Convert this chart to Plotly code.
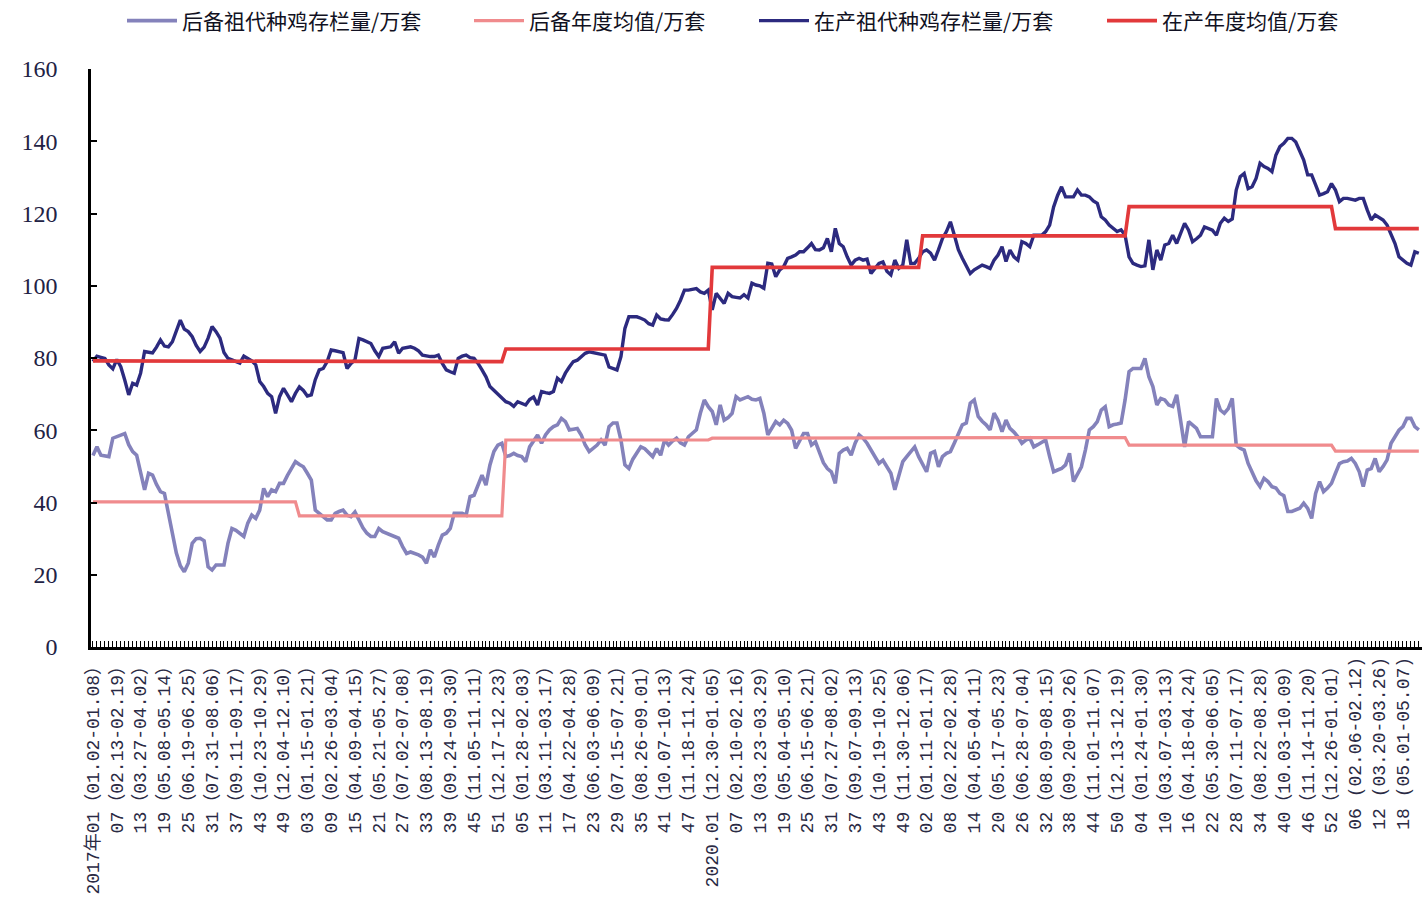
import plotly.graph_objects as go

# Weekly grandparent breeder stock (10k sets), 2017 W01 onwards
WEEKS_PER_YEAR = [52, 52, 52, 53, 52, 52, 22]  # 2017 ... 2023 (partial)

RESERVE_STOCK = [
    # 2017
    53, 55.4, 53.1, 53, 52.7, 57.8, 58.2, 58.5, 59.1, 56,
    54.1, 53.1, 48.1, 43.5, 48.1, 47.6, 45, 43, 42.5, 37,
    31.5, 26, 22.5, 20.8, 23.2, 28.7, 30, 30.1, 29.4, 22.2,
    21.3, 22.7, 22.7, 22.7, 28.7, 32.8, 32.3, 31.5, 30.6, 34.3,
    36.5, 35.6, 37.9, 43.9, 41.6, 43.5, 43, 45.3, 45.3, 47.5, 49.4, 51.3,
    # 2018
    50.5, 49.9, 48.1, 46.2, 37.9, 37, 36, 35.2, 35.2, 37,
    37.5, 37.9, 36.5, 36.1, 37.4, 35.2, 33, 31.5, 30.6, 30.6,
    32.8, 31.9, 31.5, 31, 30.6, 30.1, 27.8, 25.9, 26.3, 26,
    25.5, 24.9, 23.2, 26.9, 24.9, 28.2, 31, 31.5, 32.8, 37,
    37, 37, 36.5, 41.6, 42, 44.8, 47.6, 44.8, 50.4, 54.1, 55.9, 56.4,
    # 2019
    52.7, 53, 53.6, 53, 52.7, 51.3,
    55.4, 57, 58.7, 56.4, 58.7, 60.1, 61, 61.5, 63.3, 62.4,
    60.1, 60.3, 60.5, 58.7, 55.9, 54.1, 55, 55.9, 57.3, 55.9,
    61, 62, 62, 57.3, 50.4, 49.4, 52, 53.6, 55.4, 54.9,
    53.8, 52.7, 54.9, 53.1, 57.3, 55.9, 57, 57.8, 56.5, 55.9,
    58.2, 59, 60.1, 64.7, 68.4, 66.5,
    # 2020
    65.2, 61.5, 67, 62.8, 63.5, 64.7, 69.3, 68.4, 68.8,
    69.3, 68.6, 68.4, 68.8, 64.7, 58.7, 60.5, 62.4, 61.5, 62.8,
    61.9, 60, 55, 57, 59.1, 59.1, 55.9, 56.8, 53.6, 51,
    49.4, 48.5, 45.3, 53.6, 54.5, 55, 53.1, 56.4, 58.7, 57.8,
    56.4, 54.5, 52.5, 50.8, 51.7, 49.9, 48.1, 43.5, 47.2, 51.3,
    52.7, 54, 55.4, 52.7,
    # 2021
    50.5, 48.5, 53.6, 54.1, 49.9, 52.7, 53.6, 54.1, 56.5,
    59, 61.5, 62, 67.5, 68.4, 63.8, 62.5, 61.5, 60.1, 64.7,
    62.8, 59.6, 62.8, 60.5, 59.5, 58.2, 56.4, 57.3, 57.8, 55.4,
    56, 56.8, 57.3, 52.7, 48.5, 49, 49.4, 50.4, 53.6, 45.8,
    48, 49.9, 54.5, 60.1, 61, 62.4, 65.6, 66.5, 61, 61.5,
    61.7, 62, 68.4,
    # 2022
    76.2, 77.1, 77.1, 77.1, 79.9, 74.8, 72.1, 67, 68.8, 68.4, 67, 66.6,
    69.8, 62.8, 55.4, 62.4, 61.5, 60.5, 58.2, 58.2, 58.2, 58.2,
    68.8, 65.6, 64.7, 66, 68.8, 55.9, 55, 54.5, 50.8, 48.1,
    46, 44.4, 46.7, 45.8, 44.4, 44, 42.5, 41.9, 37.5, 37.5,
    38, 38.4, 39.8, 38.4, 35.6, 42.5, 45.8, 43, 44, 45.3,
    # 2023
    48.1, 50.8, 51.3, 51.5, 52.2, 50.8, 48.5, 44.4, 49, 49.4,
    52.2, 48.5, 50, 51.8, 56.4, 58.2, 60, 61, 63.3, 63.3, 61, 60.1,
]

PRODUCING_STOCK = [
    # 2017
    79, 80.5, 80.2, 79.9, 78.1, 77, 79.6, 77.6, 73.9, 69.8,
    73, 72.5, 75.8, 81.8, 81.6, 81.4, 83, 85, 83.3, 83.1,
    84.5, 87.7, 90.5, 88, 87.3, 85.9, 83.5, 81.8, 83, 85.5,
    88.7, 87.3, 85.5, 81.5, 79.9, 79.5, 79, 78.6, 80.5, 79.8,
    79.2, 78.1, 73.5, 72.1, 70.2, 69.3, 64.7, 69.3, 71.6, 69.8, 67.9, 70.2,
    # 2018
    72, 71, 69.5, 69.8, 74, 76.7, 77.1, 79, 82.2, 82,
    81.8, 81.5, 77.1, 78.5, 79.5, 85.4, 85, 84.5, 84, 82,
    80.4, 82.7, 83, 83.1, 84.5, 81.3, 82.7, 83, 83.1, 82.7,
    82, 80.8, 80.5, 80.4, 80.4, 80.8, 78.5, 76.7, 76.2, 75.8,
    79.9, 80.5, 80.8, 80.1, 79.9, 78.5, 76.7, 74.8, 72.1, 71, 70.2, 69,
    # 2019
    67.9, 67.5, 66.6, 67.9, 67.5, 67,
    68.5, 69.2, 67, 70.7, 70.4, 70.2, 70.7, 74.4, 73.5, 75.8,
    77.5, 79, 79.4, 80.5, 81.3, 81.7, 81.5, 81.3, 81, 80.8,
    77.5, 77, 76.7, 80.4, 88.2, 91.4, 91.4, 91.4, 91, 90.5,
    89.5, 89.1, 91.9, 90.8, 90.6, 90.5, 92, 93.7, 96, 98.8,
    98.8, 99, 99.2, 98.3, 97.9, 98.8,
    # 2020
    93.3, 97.9, 96.5, 95.1, 97.9, 97, 96.8, 96.6, 97.5,
    96.6, 100.7, 100.2, 100, 99.3, 106.2, 106, 102.5, 104.4, 105.3,
    107.6, 108, 108.5, 109.4, 109.4, 110.5, 111.7, 110, 109.9, 110.5,
    113.1, 109.4, 115.9, 111.7, 110.8, 108, 105.7, 107.1, 107.6, 107.1,
    107.4, 103.4, 104.8, 106.2, 106.6, 104, 103, 107.1, 104.8, 105.7,
    112.7, 106.2, 106.2, 107.6,
    # 2021
    109.4, 109.9, 109, 107.1, 110, 113.1, 115, 117.7, 114,
    110, 107.6, 105.7, 103.4, 104.4, 105, 105.7, 105.3, 104.8, 107.1,
    108.5, 110.8, 106.7, 109.9, 108, 107.1, 112.2, 111.7, 110.8, 114,
    114, 114, 115, 116.8, 121.8, 125, 127.4, 124.6, 124.6, 124.6,
    126.5, 125.1, 125.1, 124.6, 123.5, 122.8, 119.1, 118.2, 116.8, 116,
    115, 115.5, 114,
    # 2022
    108, 106.2, 105.7, 105.3, 105.5, 112.7, 104.4, 109.9, 107.1, 111.3, 111.7, 114,
    111.7, 114.5, 117.3, 115.4, 112.2, 113, 114, 116.3, 115.8, 115.4,
    114, 117.3, 118.7, 117.8, 118.5, 126.5, 130.2, 131.1, 126.9, 127.4,
    129.7, 133.9, 133, 132.5, 131.6, 136.2, 138.5, 139.4, 140.8, 140.8,
    139.8, 137.5, 134.8, 130.7, 130.7, 127.9, 125.1, 125.5, 126, 128.3,
    # 2023
    126.5, 123.3, 124.2, 124.2, 124, 123.7, 124.2, 124.2, 121, 118.2,
    119.6, 119, 118.2, 116.8, 114, 111.7, 108, 107, 106.2, 105.7, 109.4, 109,
]

# Annual averages, one per year
RESERVE_ANNUAL_MEAN = [40.2, 36.3, 57.3, 57.8, 58.0, 55.9, 54.2]
PRODUCING_ANNUAL_MEAN = [79.2, 79.0, 82.5, 105.1, 113.8, 121.9, 115.8]

TICK_STEP = 6
TICK_LABELS = [
    "2017年01（01.02-01.08）", "07（02.13-02.19）", "13（03.27-04.02）", "19（05.08-05.14）",
    "25（06.19-06.25）", "31（07.31-08.06）", "37（09.11-09.17）", "43（10.23-10.29）",
    "49（12.04-12.10）",
    "03（01.15-01.21）", "09（02.26-03.04）", "15（04.09-04.15）", "21（05.21-05.27）",
    "27（07.02-07.08）", "33（08.13-08.19）", "39（09.24-09.30）", "45（11.05-11.11）",
    "51（12.17-12.23）",
    "05（01.28-02.03）", "11（03.11-03.17）", "17（04.22-04.28）", "23（06.03-06.09）",
    "29（07.15-07.21）", "35（08.26-09.01）", "41（10.07-10.13）", "47（11.18-11.24）",
    "2020.01（12.30-01.05）", "07（02.10-02.16）", "13（03.23-03.29）", "19（05.04-05.10）",
    "25（06.15-06.21）", "31（07.27-08.02）", "37（09.07-09.13）", "43（10.19-10.25）",
    "49（11.30-12.06）",
    "02（01.11-01.17）", "08（02.22-02.28）", "14（04.05-04.11）", "20（05.17-05.23）",
    "26（06.28-07.04）", "32（08.09-08.15）", "38（09.20-09.26）", "44（11.01-11.07）",
    "50（12.13-12.19）",
    "04（01.24-01.30）", "10（03.07-03.13）", "16（04.18-04.24）", "22（05.30-06.05）",
    "28（07.11-07.17）", "34（08.22-08.28）", "40（10.03-10.09）", "46（11.14-11.20）",
    "52（12.26-01.01）",
    "06 (02.06-02.12)", "12 (03.20-03.26)", "18 (05.01-05.07)",
]

SERIES_NAMES = ["后备祖代种鸡存栏量/万套", "后备年度均值/万套",
                "在产祖代种鸡存栏量/万套", "在产年度均值/万套"]
COLORS = ["#8482bb", "#f08b8d", "#2c2a7f", "#e2393b"]


def per_week(annual):
    out = []
    for value, n in zip(annual, WEEKS_PER_YEAR):
        out.extend([value] * n)
    return out


n_weeks = sum(WEEKS_PER_YEAR)
assert len(RESERVE_STOCK) == n_weeks and len(PRODUCING_STOCK) == n_weeks
x = list(range(n_weeks))

series = [RESERVE_STOCK, per_week(RESERVE_ANNUAL_MEAN),
          PRODUCING_STOCK, per_week(PRODUCING_ANNUAL_MEAN)]
widths = [3.6, 3.2, 3.4, 3.6]
legend_ids = ["legend", "legend2", "legend3", "legend4"]
legend_x = [122, 469, 754, 1102]

fig = go.Figure()
for name, ys, color, w, lg in zip(SERIES_NAMES, series, COLORS, widths, legend_ids):
    fig.add_trace(go.Scatter(
        x=x, y=ys, name=name, mode="lines",
        line=dict(color=color, width=w),
        legend=lg,
    ))

legend_font = dict(family="Noto Sans CJK SC", size=21, color="#111122")
legend_layout = {}
for lg, lx in zip(legend_ids, legend_x):
    legend_layout[lg] = dict(
        x=lx / 1422, xref="container", xanchor="left",
        y=1 - 21 / 900, yref="container", yanchor="middle",
        orientation="h", font=legend_font, bgcolor="rgba(0,0,0,0)",
        itemwidth=50,
    )

tickvals = list(range(0, n_weeks, TICK_STEP))[:len(TICK_LABELS)]

fig.update_layout(
    width=1422, height=900,
    margin=dict(l=91, r=0, t=69, b=253),
    paper_bgcolor="white", plot_bgcolor="white",
    showlegend=True,
    **legend_layout,
    xaxis=dict(
        range=[-0.5, n_weeks - 0.2],
        tickmode="array", tickvals=tickvals, ticktext=TICK_LABELS,
        tickangle=-90,
        tickfont=dict(family="Liberation Mono, Noto Sans CJK SC", size=18, color="#2a2a44"),
        showline=True, linecolor="black", linewidth=2.5,
        ticks="inside", ticklen=6, tickcolor="black", tickwidth=1.2,
        minor=dict(tickmode="linear", tick0=0, dtick=1, ticks="inside",
                   ticklen=6, tickcolor="black", tickwidth=1.2, showgrid=False),
        showgrid=False, zeroline=False, automargin=False,
    ),
    yaxis=dict(
        range=[0, 160], tickmode="linear", tick0=0, dtick=20,
        tickfont=dict(family="Liberation Serif", size=24, color="#222244"),
        showline=True, linecolor="black", linewidth=2.5,
        ticks="inside", ticklen=6, tickcolor="black", tickwidth=2,
        ticklabelstandoff=26,
        showgrid=False, zeroline=False, automargin=False,
    ),
)

fig.write_html("out.html")
